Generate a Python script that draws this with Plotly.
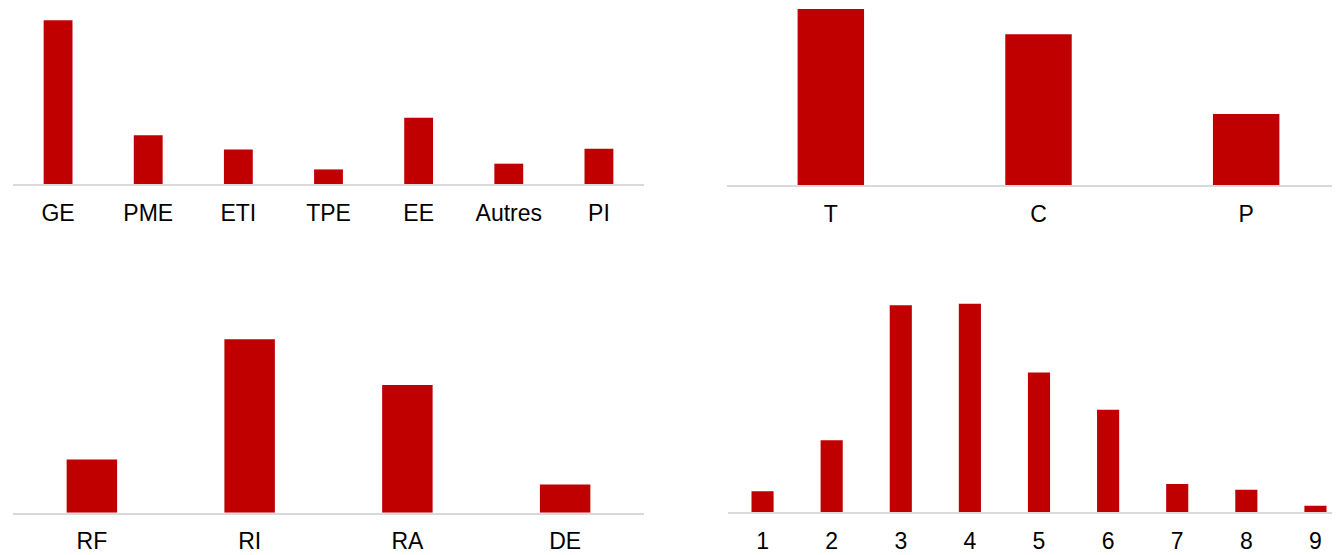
import plotly.graph_objects as go

# Panel 1 (top-left): share by company type (%)
cat_tl = ["GE", "PME", "ETI", "TPE", "EE", "Autres", "PI"]
val_tl = [42.7, 12.7, 9.0, 3.8, 17.3, 5.3, 9.2]

# Panel 2 (top-right)
cat_tr = ["T", "C", "P"]
val_tr = [44.2, 37.9, 17.9]

# Panel 3 (bottom-left)
cat_bl = ["RF", "RI", "RA", "DE"]
val_bl = [13.9, 45.3, 33.4, 7.4]

# Panel 4 (bottom-right)
cat_br = ["1", "2", "3", "4", "5", "6", "7", "8", "9"]
val_br = [2.6, 8.9, 25.6, 25.8, 17.3, 12.7, 3.5, 2.8, 0.8]

# page body adds an 8px offset; figure is sized to fill the rest of the window
OFF = 8
W, H = 1340 - OFF, 555 - OFF
RED = "#C00000"
FONT = dict(family="Liberation Sans, Arial, sans-serif", size=23, color="#000000")

fig = go.Figure()
panels = [
    (cat_tl, val_tl, "x", "y"),
    (cat_tr, val_tr, "x2", "y2"),
    (cat_bl, val_bl, "x3", "y3"),
    (cat_br, val_br, "x4", "y4"),
]
for cats, vals, xa, ya in panels:
    fig.add_trace(go.Bar(x=cats, y=vals, xaxis=xa, yaxis=ya, width=0.32,
                         marker=dict(color=RED, line=dict(width=0)),
                         hoverinfo="skip", showlegend=False))

def xd(a, b):
    return [(a - OFF) / W, min(1.0, (b - OFF) / W)]

def yd(top, bottom):
    return [1 - (bottom - OFF) / H, min(1.0, 1 - (top - OFF) / H)]

axis_common = dict(showgrid=False, zeroline=False, showline=True, linecolor="#d9d9d9",
                   linewidth=2, ticks="", tickfont=FONT, type="category", fixedrange=True,
                   ticklabelstandoff=7)
yaxis_common = dict(showgrid=False, zeroline=False, showline=False, showticklabels=False,
                    fixedrange=True)

def xr(n, start_px, end_px, clip_px):
    cat = (end_px - start_px) / n
    return [-0.5, n - 0.5 - (end_px - clip_px) / cat]

fig.update_layout(
    width=W, height=H,
    margin=dict(l=0, r=0, t=0, b=0),
    paper_bgcolor="white", plot_bgcolor="white",
    xaxis=dict(axis_common, domain=xd(13, 644), anchor="y", range=[-0.5, len(cat_tl) - 0.5]),
    yaxis=dict(yaxis_common, domain=yd(8, 184), anchor="x", range=[0, 45.9]),
    xaxis2=dict(axis_common, domain=xd(727, 1340), anchor="y2",
                range=xr(len(cat_tr), 727, 1350, 1340)),
    yaxis2=dict(yaxis_common, domain=yd(8, 185.3), anchor="x2", range=[0, 44.46]),
    xaxis3=dict(axis_common, domain=xd(13, 644), anchor="y3", range=[-0.5, len(cat_bl) - 0.5]),
    yaxis3=dict(yaxis_common, domain=yd(290, 512.7), anchor="x3", range=[0, 58.2]),
    xaxis4=dict(axis_common, domain=xd(728, 1340), anchor="y4",
                range=xr(len(cat_br), 728, 1350, 1340)),
    yaxis4=dict(yaxis_common, domain=yd(290, 512.3), anchor="x4", range=[0, 27.5]),
)

fig.write_html("out.html", config={"displayModeBar": False})
